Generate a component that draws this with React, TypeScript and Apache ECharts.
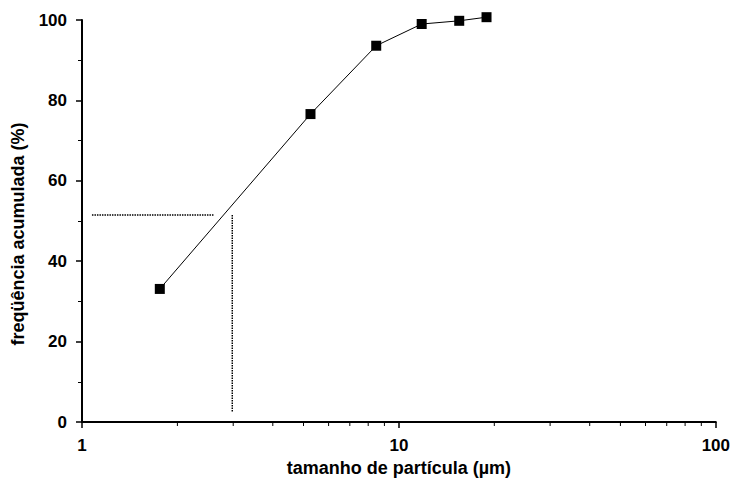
import React, { useEffect, useRef } from "react";
import * as echarts from "echarts";

const sizes = [1.76, 5.26, 8.48, 11.8, 15.5, 18.9];
const cumulative = [33.1, 76.6, 93.6, 99.0, 99.8, 100.7];
const guideH: [number, number][] = [[1.075, 51.5], [2.6, 51.5]];
const guideV: [number, number][] = [[2.98, 51.5], [2.98, 2.5]];
const xMinorTicks = [2, 3, 4, 5, 6, 7, 8, 9, 20, 30, 40, 50, 60, 70, 80, 90];

const FONT = "'Liberation Sans', Arial, sans-serif";

export default function App() {
  const ref = useRef<HTMLDivElement>(null);
  useEffect(() => {
    document.body.style.margin = "0";
    if (!ref.current) return;
    const chart = echarts.init(ref.current, null, { renderer: "svg" });
    chart.setOption({
      animation: false,
      backgroundColor: "#ffffff",
      grid: { left: 82, right: 16, top: 20, bottom: 64, containLabel: false },
      graphic: [
        {
          type: "text",
          x: 18,
          y: 234,
          rotation: Math.PI / 2,
          style: {
            text: "freqüência acumulada (%)",
            fontFamily: FONT,
            fontSize: 18,
            fontWeight: "bold",
            fill: "#000",
            align: "center",
            verticalAlign: "middle",
          },
        },
      ],
      xAxis: {
        type: "log",
        logBase: 10,
        min: 1,
        max: 100,
        name: "tamanho de partícula (µm)",
        nameLocation: "middle",
        nameGap: 36,
        nameTextStyle: { fontFamily: FONT, fontSize: 18, fontWeight: "bold", color: "#000" },
        axisLine: { show: true, lineStyle: { color: "#000", width: 2 } },
        axisTick: { show: true, length: 6, lineStyle: { color: "#000", width: 1.5 } },
        minorTick: { show: false },
        axisLabel: { fontFamily: FONT, fontSize: 17, fontWeight: "bold", color: "#000", margin: 15 },
        splitLine: { show: false },
      },
      yAxis: {
        type: "value",
        min: 0,
        max: 100,
        interval: 20,
        axisLine: { show: true, lineStyle: { color: "#000", width: 2 } },
        axisTick: { show: true, length: 6, lineStyle: { color: "#000", width: 1.5 } },
        minorTick: { show: true, splitNumber: 2, length: 4, lineStyle: { color: "#000", width: 1 } },
        axisLabel: { fontFamily: FONT, fontSize: 17, fontWeight: "bold", color: "#000", margin: 15 },
        splitLine: { show: false },
      },
      series: [
        {
          type: "line",
          data: sizes.map((s, i) => [s, cumulative[i]]),
          symbol: "rect",
          symbolSize: 10,
          clip: false,
          lineStyle: { color: "#000", width: 1 },
          itemStyle: { color: "#000" },
          z: 5,
        },
        {
          type: "line",
          data: guideH,
          symbol: "none",
          lineStyle: { color: "#000", width: 1.5, type: [1.5, 1] },
        },
        {
          type: "line",
          data: guideV,
          symbol: "none",
          lineStyle: { color: "#000", width: 1.5, type: [1.5, 1] },
        },
        {
          type: "custom",
          clip: false,
          data: xMinorTicks.map((v) => [v, 0]),
          renderItem: (params: any, api: any) => {
            const p = api.coord([api.value(0), 0]);
            return {
              type: "line",
              shape: { x1: p[0], y1: p[1], x2: p[0], y2: p[1] + 4 },
              style: { stroke: "#000", lineWidth: 1 },
            };
          },
          z: 3,
        },
      ],
    });
    return () => chart.dispose();
  }, []);
  return <div ref={ref} style={{ width: 733, height: 486 }} />;
}
